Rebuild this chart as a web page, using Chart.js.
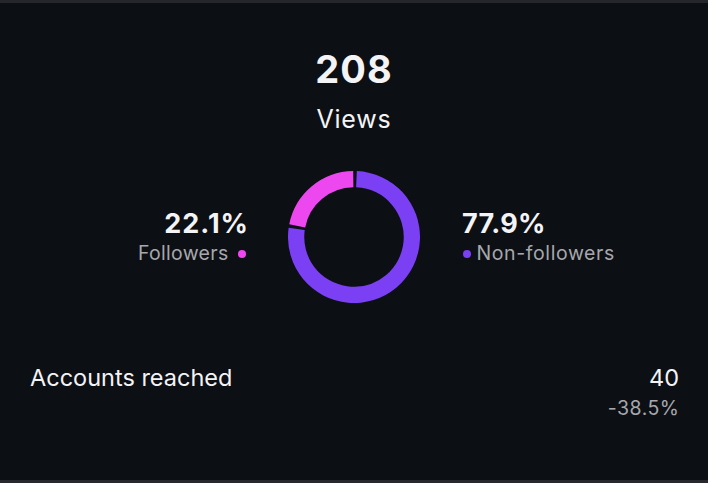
<!DOCTYPE html>
<html>
<head>
<meta charset="utf-8">
<script src="https://cdn.jsdelivr.net/npm/chart.js@4"></script>
<style>
  html,body{margin:0;padding:0;}
  body{width:708px;height:483px;background:#0c0f14;position:relative;overflow:hidden;font-family:Inter,"Open Sans",sans-serif;color:#f4f4f6;}
  .topline{position:absolute;left:0;top:0;width:708px;height:3px;background:#24262b;}
  .botline{position:absolute;left:0;top:480px;width:708px;height:3px;background:#26282d;}
  .t{position:absolute;white-space:nowrap;line-height:1;}
  #chartWrap{position:absolute;left:288px;top:171px;width:132px;height:132px;}
  .dot{position:absolute;width:8px;height:8px;border-radius:50%;}
</style>
</head>
<body>
<div class="topline"></div>
<div class="botline"></div>
<div class="t" id="views" style="left:0;width:708px;text-align:center;top:50px;font-size:38px;font-weight:700;letter-spacing:1px;"></div>
<div class="t" id="viewsLabel" style="left:0;width:708px;text-align:center;top:107px;font-size:25px;font-weight:400;letter-spacing:0.8px;"></div>
<div class="t" id="pctL" style="right:459px;top:210px;font-size:27px;font-weight:700;letter-spacing:1px;"></div>
<div class="t" id="labL" style="right:479.5px;top:244px;font-size:19.5px;color:#a7a7ac;letter-spacing:0.3px;"></div>
<div class="dot" id="dotL" style="left:237.5px;top:250.3px;"></div>
<div class="t" id="pctR" style="left:462px;top:210px;font-size:27px;font-weight:700;letter-spacing:0.3px;"></div>
<div class="t" id="labR" style="left:476.5px;top:244px;font-size:19.5px;color:#a7a7ac;letter-spacing:0.6px;"></div>
<div class="dot" id="dotR" style="left:462.5px;top:250.3px;"></div>
<div class="t" id="metricName" style="left:30px;top:366px;font-size:23.5px;"></div>
<div class="t" id="metricValue" style="right:29px;top:366px;font-size:23.5px;"></div>
<div class="t" id="metricChange" style="right:28.5px;top:399px;font-size:19.5px;color:#a7a7ac;letter-spacing:0.5px;"></div>
<div id="chartWrap"><canvas id="c"></canvas></div>
<script>
const totalViews = 208;
const totalLabel = 'Views';
const segmentLabels = ['Non-followers', 'Followers'];
const segmentValues = [77.9, 22.1];
const segmentColors = ['#7b3ff4', '#ed47f0'];
const metricLabels = ['Accounts reached'];
const metricValues = [40];
const metricChanges = ['-38.5%'];

document.getElementById('views').textContent = totalViews;
document.getElementById('viewsLabel').textContent = totalLabel;
document.getElementById('pctL').textContent = segmentValues[1].toFixed(1) + '%';
document.getElementById('labL').textContent = segmentLabels[1];
document.getElementById('dotL').style.background = segmentColors[1];
document.getElementById('pctR').textContent = segmentValues[0].toFixed(1) + '%';
document.getElementById('labR').textContent = segmentLabels[0];
document.getElementById('dotR').style.background = segmentColors[0];
document.getElementById('metricName').textContent = metricLabels[0];
document.getElementById('metricValue').textContent = metricValues[0];
document.getElementById('metricChange').textContent = metricChanges[0];

new Chart(document.getElementById('c'), {
  type: 'doughnut',
  data: {
    labels: segmentLabels,
    datasets: [{
      data: segmentValues,
      backgroundColor: segmentColors,
      borderWidth: 0,
      spacing: 2
    }]
  },
  options: {
    responsive: true,
    maintainAspectRatio: false,
    animation: false,
    cutout: '75%',
    layout: { padding: 0 },
    plugins: { legend: { display: false }, tooltip: { enabled: false } }
  }
});
</script>
</body>
</html>
